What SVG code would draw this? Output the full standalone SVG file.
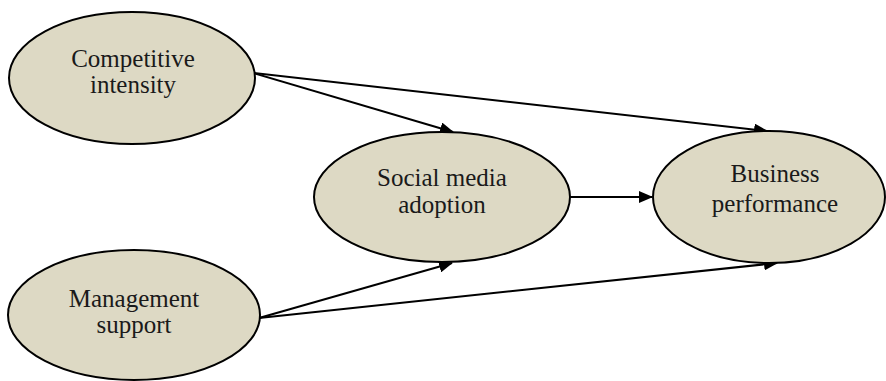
<svg xmlns="http://www.w3.org/2000/svg" width="886" height="381" viewBox="0 0 886 381">
<defs>
<marker id="ah" markerUnits="userSpaceOnUse" markerWidth="14" markerHeight="12" refX="13" refY="6" orient="auto">
<path d="M0,0 L14,6 L0,12 Z" fill="#000"/>
</marker>
<style>
.node ellipse{fill:#DDD9C4;stroke:#000;stroke-width:2}
.node text{font-family:"Liberation Serif","Times New Roman",serif;font-size:25px;fill:#1a1a1a;text-anchor:middle}
.edge{stroke:#000;stroke-width:2;fill:none;marker-end:url(#ah)}
</style>
</defs>
<rect width="886" height="381" fill="#fff"/>
<g id="connectors">
<line class="edge" x1="253" y1="73" x2="453" y2="132"/>
<line class="edge" x1="253" y1="73" x2="767" y2="131"/>
<line class="edge" x1="570" y1="197" x2="652" y2="197"/>
<line class="edge" x1="259" y1="318" x2="452" y2="263"/>
<line class="edge" x1="259" y1="318" x2="777" y2="263"/>
</g>
<g id="competitive-intensity" class="node">
<ellipse cx="132" cy="78" rx="123" ry="66"/>
<text x="133" y="67">Competitive</text>
<text x="133" y="93">intensity</text>
</g>
<g id="management-support" class="node">
<ellipse cx="134" cy="315" rx="126" ry="65"/>
<text x="134" y="307">Management</text>
<text x="134" y="333">support</text>
</g>
<g id="social-media-adoption" class="node">
<ellipse cx="442" cy="197" rx="128" ry="65"/>
<text x="442" y="186">Social media</text>
<text x="442" y="213">adoption</text>
</g>
<g id="business-performance" class="node">
<ellipse cx="769" cy="197" rx="116" ry="66"/>
<text x="775" y="182">Business</text>
<text x="775" y="212">performance</text>
</g>
</svg>
